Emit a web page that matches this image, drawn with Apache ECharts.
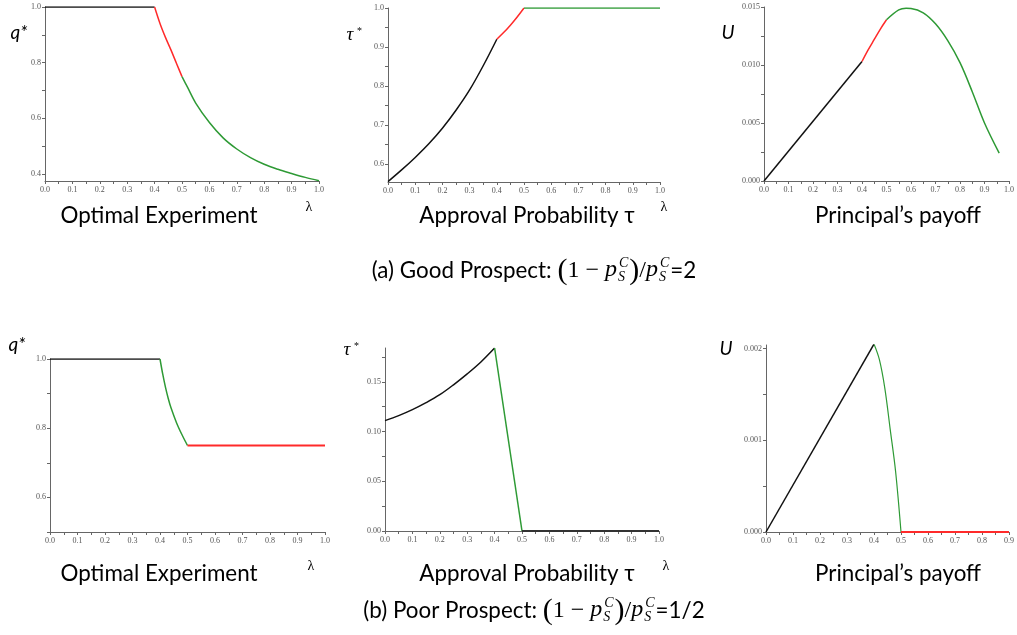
<!DOCTYPE html>
<html><head><meta charset="utf-8">
<script src="https://cdn.jsdelivr.net/npm/echarts@6/dist/echarts.min.js"></script>
<style>html,body{margin:0;padding:0;background:#fff}#c{width:1017px;height:635px}</style>
</head><body><div id="c"></div>
<script>
// ---------- DATA ----------
// (a) Good prospect — q*
const qGoodBlackX = [0, 0.4];
const qGoodBlackY = [1.0, 1.0];
const qGoodRedX = [0.40, 0.42, 0.44, 0.46, 0.48, 0.50];
const qGoodRedY = [1.0, 0.94, 0.89, 0.845, 0.797, 0.75];
const qGoodGreenX = [0.5, 0.52, 0.55, 0.6, 0.65, 0.7, 0.75, 0.8, 0.85, 0.9, 0.95, 1.0];
const qGoodGreenY = [0.75, 0.712, 0.655, 0.585, 0.53, 0.49, 0.459, 0.435, 0.417, 0.402, 0.388, 0.376];
// (a) Good prospect — tau*
const tauGoodBlackX = [0, 0.05, 0.1, 0.15, 0.2, 0.25, 0.3, 0.35, 0.4];
const tauGoodBlackY = [0.555, 0.585, 0.617, 0.652, 0.692, 0.738, 0.790, 0.852, 0.92];
const tauGoodRedX = [0.4, 0.425, 0.45, 0.475, 0.5];
const tauGoodRedY = [0.92, 0.937, 0.956, 0.977, 1.0];
const tauGoodGreenX = [0.5, 1.0];
const tauGoodGreenY = [1.0, 1.0];
// (a) Good prospect — U
const uGoodBlackX = [0, 0.4];
const uGoodBlackY = [0, 0.0103];
const uGoodRedX = [0.4, 0.425, 0.45, 0.475, 0.5];
const uGoodRedY = [0.0103, 0.0113, 0.0122, 0.0131, 0.0139];
const uGoodGreenX = [0.5, 0.55, 0.58, 0.6, 0.65, 0.7, 0.75, 0.8, 0.85, 0.9, 0.96];
const uGoodGreenY = [0.0139, 0.01475, 0.0149, 0.01488, 0.0145, 0.01355, 0.0121, 0.0102, 0.0077, 0.0050, 0.0024];
// (b) Poor prospect — q*
const qPoorBlackX = [0, 0.4];
const qPoorBlackY = [1.0, 1.0];
const qPoorGreenX = [0.4, 0.41, 0.42, 0.43, 0.44, 0.46, 0.48, 0.5];
const qPoorGreenY = [1.0, 0.956, 0.918, 0.886, 0.859, 0.816, 0.781, 0.75];
const qPoorRedX = [0.5, 1.0];
const qPoorRedY = [0.75, 0.75];
// (b) Poor prospect — tau*
const tauPoorBlackX = [0, 0.05, 0.1, 0.15, 0.2, 0.25, 0.3, 0.35, 0.4];
const tauPoorBlackY = [0.111, 0.116, 0.122, 0.129, 0.137, 0.147, 0.158, 0.170, 0.184];
const tauPoorGreenX = [0.4, 0.5];
const tauPoorGreenY = [0.184, 0.0];
const tauPoorFlatX = [0.5, 1.0];
const tauPoorFlatY = [0, 0];
// (b) Poor prospect — U
const uPoorBlackX = [0, 0.4];
const uPoorBlackY = [0, 0.00205];
const uPoorGreenX = [0.4, 0.42, 0.44, 0.46, 0.48, 0.5];
const uPoorGreenY = [0.00205, 0.00188, 0.00157, 0.00112, 0.00066, 0];
const uPoorRedX = [0.5, 0.9];
const uPoorRedY = [0, 0];

// tick label values
const xLabels = [0, 0.1, 0.2, 0.3, 0.4, 0.5, 0.6, 0.7, 0.8, 0.9, 1.0];
const xTicks = [0,0.05,0.1,0.15,0.2,0.25,0.3,0.35,0.4,0.45,0.5,0.55,0.6,0.65,0.7,0.75,0.8,0.85,0.9,0.95,1.0];
const qGoodYLabels = [0.4, 0.6, 0.8, 1.0];
const qGoodYTicks = [0.4, 0.5, 0.6, 0.7, 0.8, 0.9, 1.0];
const tauGoodYLabels = [0.6, 0.7, 0.8, 0.9, 1.0];
const tauGoodYTicks = [0.6, 0.65, 0.7, 0.75, 0.8, 0.85, 0.9, 0.95, 1.0];
const uGoodYLabels = [0, 0.005, 0.010, 0.015];
const uGoodYTicks = [0, 0.0025, 0.005, 0.0075, 0.010, 0.0125, 0.015];
const qPoorYLabels = [0.6, 0.8, 1.0];
const qPoorYTicks = [0.5, 0.6, 0.7, 0.8, 0.9, 1.0];
const tauPoorYLabels = [0, 0.05, 0.10, 0.15];
const tauPoorYTicks = [0, 0.025, 0.05, 0.075, 0.10, 0.125, 0.15, 0.175];
const uPoorYLabels = [0, 0.001, 0.002];
const uPoorYTicks = [0, 0.0005, 0.001, 0.0015, 0.002];

// ---------- LAYOUT ----------
const SANS = 'Lato, "Open Sans", sans-serif';
const SERIF = '"Liberation Serif", "DejaVu Serif", serif';
const BLACK = '#111', RED = '#ff2a2a', GREEN = '#2e9a35';
const zip = (xs, ys) => xs.map((x, i) => [x, ys[i]]);

const panels = [
  {left: 45, top: 7, width: 274, height: 174, xMax: 1, yMin: 0.375, yMax: 1.0, yl: qGoodYLabels, yt: qGoodYTicks, dec: 1},
  {left: 388, top: 8, width: 272, height: 174, xMax: 1, yMin: 0.554, yMax: 1.0, yl: tauGoodYLabels, yt: tauGoodYTicks, dec: 1},
  {left: 764, top: 7, width: 263, height: 174, xMax: 1, yMin: 0, yMax: 0.015, yl: uGoodYLabels, yt: uGoodYTicks, dec: 3},
  {left: 50, top: 359, width: 275, height: 173, xMax: 1, yMin: 0.5, yMax: 1.0, yl: qPoorYLabels, yt: qPoorYTicks, dec: 1},
  {left: 385, top: 348, width: 274, height: 183, xMax: 1, yMin: 0, yMax: 0.184, yl: tauPoorYLabels, yt: tauPoorYTicks, dec: 2},
  {left: 766, top: 345, width: 252, height: 187, xMax: 0.9, yMin: 0, yMax: 0.00204, yl: uPoorYLabels, yt: uPoorYTicks, dec: 3}
];

const axisLineStyle = {color: '#666', width: 1};
const labelStyle = {fontFamily: SERIF, fontSize: 8, color: '#555'};
const grids = [], xAxes = [], yAxes = [];
panels.forEach((p, i) => {
  grids.push({left: p.left, top: p.top, width: p.width, height: p.height});
  xAxes.push({
    type: 'value', gridIndex: i, min: 0, max: p.xMax,
    axisLine: {show: true, lineStyle: axisLineStyle},
    axisTick: {show: true, length: 3, lineStyle: axisLineStyle, customValues: xTicks.filter(v => v <= p.xMax + 1e-9)},
    axisLabel: Object.assign({margin: 5, customValues: xLabels.filter(v => v <= p.xMax + 1e-9), formatter: v => v.toFixed(1)}, labelStyle),
    splitLine: {show: false}
  });
  yAxes.push({
    type: 'value', gridIndex: i, min: p.yMin, max: p.yMax,
    axisLine: {show: true, lineStyle: axisLineStyle},
    axisTick: {show: true, length: 3, lineStyle: axisLineStyle, customValues: p.yt},
    axisLabel: Object.assign({margin: 4, customValues: p.yl, formatter: v => v.toFixed(p.dec)}, labelStyle),
    splitLine: {show: false}
  });
});

function line(idx, xs, ys, color, width, smooth) {
  return {
    type: 'line', xAxisIndex: idx, yAxisIndex: idx, data: zip(xs, ys),
    showSymbol: false, symbol: 'none', smooth: smooth ? 0.35 : false,
    lineStyle: {color: color, width: width || 1.5}, z: 3, silent: true
  };
}

const series = [
  line(0, qGoodBlackX, qGoodBlackY, BLACK),
  line(0, qGoodRedX, qGoodRedY, RED, 1.5, true),
  line(0, qGoodGreenX, qGoodGreenY, GREEN, 1.5, true),
  line(1, tauGoodBlackX, tauGoodBlackY, BLACK, 1.5, true),
  line(1, tauGoodRedX, tauGoodRedY, RED, 1.5, true),
  line(1, tauGoodGreenX, tauGoodGreenY, GREEN),
  line(2, uGoodBlackX, uGoodBlackY, BLACK),
  line(2, uGoodRedX, uGoodRedY, RED, 1.5, true),
  line(2, uGoodGreenX, uGoodGreenY, GREEN, 1.5, true),
  line(3, qPoorBlackX, qPoorBlackY, BLACK),
  line(3, qPoorGreenX, qPoorGreenY, GREEN, 1.5, true),
  line(3, qPoorRedX, qPoorRedY, RED, 2),
  line(4, tauPoorBlackX, tauPoorBlackY, BLACK, 1.5, true),
  line(4, tauPoorGreenX, tauPoorGreenY, GREEN),
  line(4, tauPoorFlatX, tauPoorFlatY, '#333', 2),
  line(5, uPoorBlackX, uPoorBlackY, BLACK),
  line(5, uPoorGreenX, uPoorGreenY, GREEN, 1.2, true),
  line(5, uPoorRedX, uPoorRedY, RED, 2)
];

// ---------- TEXT ----------
const ctx = document.createElement('canvas').getContext('2d');
function measure(text, size, family, style) {
  ctx.font = (style || 'normal') + ' ' + size + 'px ' + family;
  return ctx.measureText(text).width;
}
// caption size fitted so "Optimal Experiment" spans ~197px like the reference
const CAP = Math.round(24 * 197 / measure('Optimal Experiment', 24, SANS) * 10) / 10;

const graphics = [];
function txt(text, x, y, size, family, opts) {
  opts = opts || {};
  graphics.push({
    type: 'text', x: x, y: y, silent: true, z: 10,
    style: {
      text: text, fontSize: size, fontFamily: family, fontStyle: opts.style || 'normal',
      fill: opts.fill || '#000', align: opts.align || 'center', verticalAlign: 'middle',
      textAlign: opts.align || 'center', textVerticalAlign: 'middle'
    }
  });
}

// subplot captions
[[159, 216], [159, 574]].forEach(([x, y]) => txt('Optimal Experiment', x, y, CAP, SANS));
[[527, 216], [527, 574]].forEach(([x, y]) => txt('Approval Probability τ', x, y, CAP, SANS));
[[898, 216], [898, 574]].forEach(([x, y]) => txt('Principal\u2019s payoff', x, y, CAP, SANS));
// lambda labels
[[309, 207], [311, 566], [664, 207], [666, 566]].forEach(([x, y]) => txt('λ', x, y, 14, SERIF));
// y-axis names
txt('q*', 19, 33, 19, SANS, {style: 'italic'});
txt('q*', 17, 345, 19, SANS, {style: 'italic'});
txt('U', 728, 33, 19, SANS, {style: 'italic'});
txt('U', 726, 349, 19, SANS, {style: 'italic'});
function tauStar(x, y) {
  txt('τ', x, y, 19, SERIF, {style: 'italic'});
  txt('*', x + 7, y - 4, 10, SERIF, {align: 'left'});
}
tauStar(350, 35);
tauStar(347, 350);

// math captions
function mathCaption(cx, cy, lead, tail) {
  const pieces = [
    {t: lead, s: CAP, f: SANS},
    {t: '(', s: 30, f: SERIF},
    {t: '1 − ', s: 24, f: SERIF},
    {t: 'p', s: 24, f: SERIF, st: 'italic'},
    {stack: true, s: 14, f: SERIF, st: 'italic'},
    {t: ')', s: 30, f: SERIF},
    {t: '/', s: 24, f: SERIF},
    {t: 'p', s: 24, f: SERIF, st: 'italic'},
    {stack: true, s: 14, f: SERIF, st: 'italic'},
    {t: tail, s: CAP, f: SANS}
  ];
  pieces.forEach(p => {
    p.w = p.stack ? Math.max(measure('S', p.s, p.f, p.st), measure('C', p.s, p.f, p.st)) + 3
                  : measure(p.t, p.s, p.f, p.st);
  });
  const total = pieces.reduce((a, p) => a + p.w, 0);
  let x = cx - total / 2;
  pieces.forEach(p => {
    if (p.stack) {
      txt('S', x + 1, cy + 6, p.s, p.f, {style: p.st, align: 'left'});
      txt('C', x + 2, cy - 8, p.s, p.f, {style: p.st, align: 'left'});
    } else {
      txt(p.t, x, cy + (p.t === 'p' ? -1 : 0), p.s, p.f, {style: p.st, align: 'left'});
    }
    x += p.w;
  });
}
mathCaption(534, 271, '(a) Good Prospect: ', '=2');
mathCaption(534, 611, '(b) Poor Prospect: ', '=1/2');

const chart = echarts.init(document.getElementById('c'), null, {renderer: 'canvas'});
chart.setOption({
  animation: false,
  backgroundColor: '#fff',
  grid: grids, xAxis: xAxes, yAxis: yAxes,
  series: series,
  graphic: {elements: graphics}
});
</script>
</body></html>
